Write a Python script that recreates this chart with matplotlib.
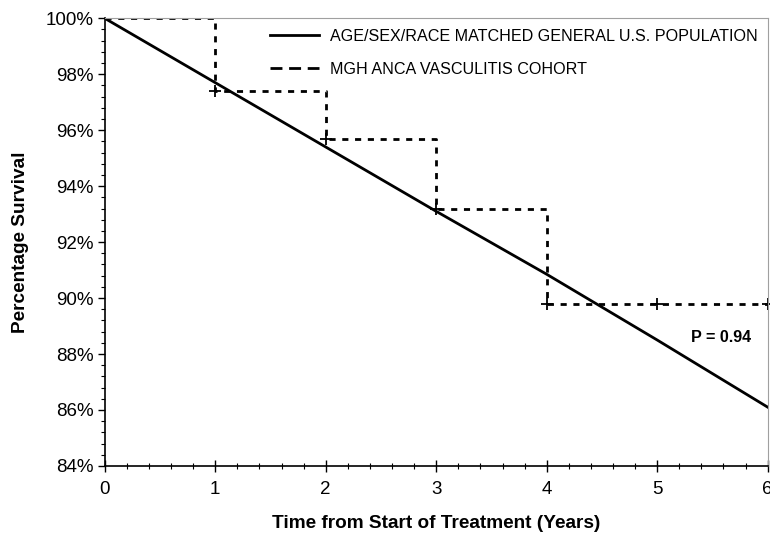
import matplotlib.pyplot as plt
from matplotlib.lines import Line2D
from matplotlib.ticker import MultipleLocator, FuncFormatter

plt.rcParams['font.family'] = ['Liberation Sans', 'DejaVu Sans']

# expected survival, general population (%)
pop_years = [0, 1, 2, 3, 4, 5, 6]
pop_surv = [100, 97.7, 95.4, 93.1, 90.85, 88.5, 86.1]

# Kaplan-Meier estimate, cohort (%)
km_years = [0, 1, 2, 3, 4, 6]
km_surv = [100, 97.4, 95.7, 93.2, 89.8, 89.8]

# censoring marks
cens_years = [1, 2, 3, 4, 5, 6]
cens_surv = [97.4, 95.7, 93.2, 89.8, 89.8, 89.8]

labels = ['AGE/SEX/RACE MATCHED GENERAL U.S. POPULATION',
          'MGH ANCA VASCULITIS COHORT']

fig = plt.figure(figsize=(7.7, 5.38), dpi=100)
ax = fig.add_axes([0.136, 0.134, 0.861, 0.832])

ax.plot(pop_years, pop_surv, color='black', lw=2)
ax.step(km_years, km_surv, where='post', color='black', lw=2,
        linestyle=(0, (2.2, 2.4)))
ax.plot(cens_years, cens_surv, linestyle='none', marker='+', color='black',
        markersize=9, markeredgewidth=1.3, clip_on=False)

ax.set_xlim(0, 6)
ax.set_ylim(84, 100)
ax.xaxis.set_major_locator(MultipleLocator(1))
ax.xaxis.set_minor_locator(MultipleLocator(0.2))
ax.yaxis.set_major_locator(MultipleLocator(2))
ax.yaxis.set_minor_locator(MultipleLocator(0.4))
ax.yaxis.set_major_formatter(FuncFormatter(lambda v, p: f'{v:.0f}%'))

ax.tick_params(axis='x', which='major', direction='inout', length=8, width=1,
               labelsize=13.5, pad=7)
ax.tick_params(axis='x', which='minor', direction='inout', length=5, width=0.8)
ax.tick_params(axis='y', which='major', direction='out', length=5, width=1,
               labelsize=13.5, pad=3)
ax.tick_params(axis='y', which='minor', direction='out', length=3, width=0.8)

for s in ['left', 'bottom']:
    ax.spines[s].set_linewidth(1.2)
for s in ['top', 'right']:
    ax.spines[s].set_color('#a0a0a0')
    ax.spines[s].set_linewidth(0.8)

ax.set_xlabel('Time from Start of Treatment (Years)', fontsize=13.7,
              fontweight='bold', labelpad=12)
ax.set_ylabel('Percentage Survival', fontsize=13.7, fontweight='bold',
              labelpad=12)

handles = [Line2D([], [], color='black', lw=2),
           Line2D([], [], color='black', lw=2, linestyle=(0, (4.3, 2.4)))]
ax.legend(handles, labels, loc='upper right', bbox_to_anchor=(0.985, 0.977),
          fontsize=11.6, frameon=False, handlelength=3.0, handletextpad=0.7,
          labelspacing=1.15, borderpad=0, borderaxespad=0)

ax.text(5.58, 88.6, 'P = 0.94', fontsize=11.6, fontweight='bold',
        ha='center', va='center')

fig.savefig('out.png', dpi=100)
